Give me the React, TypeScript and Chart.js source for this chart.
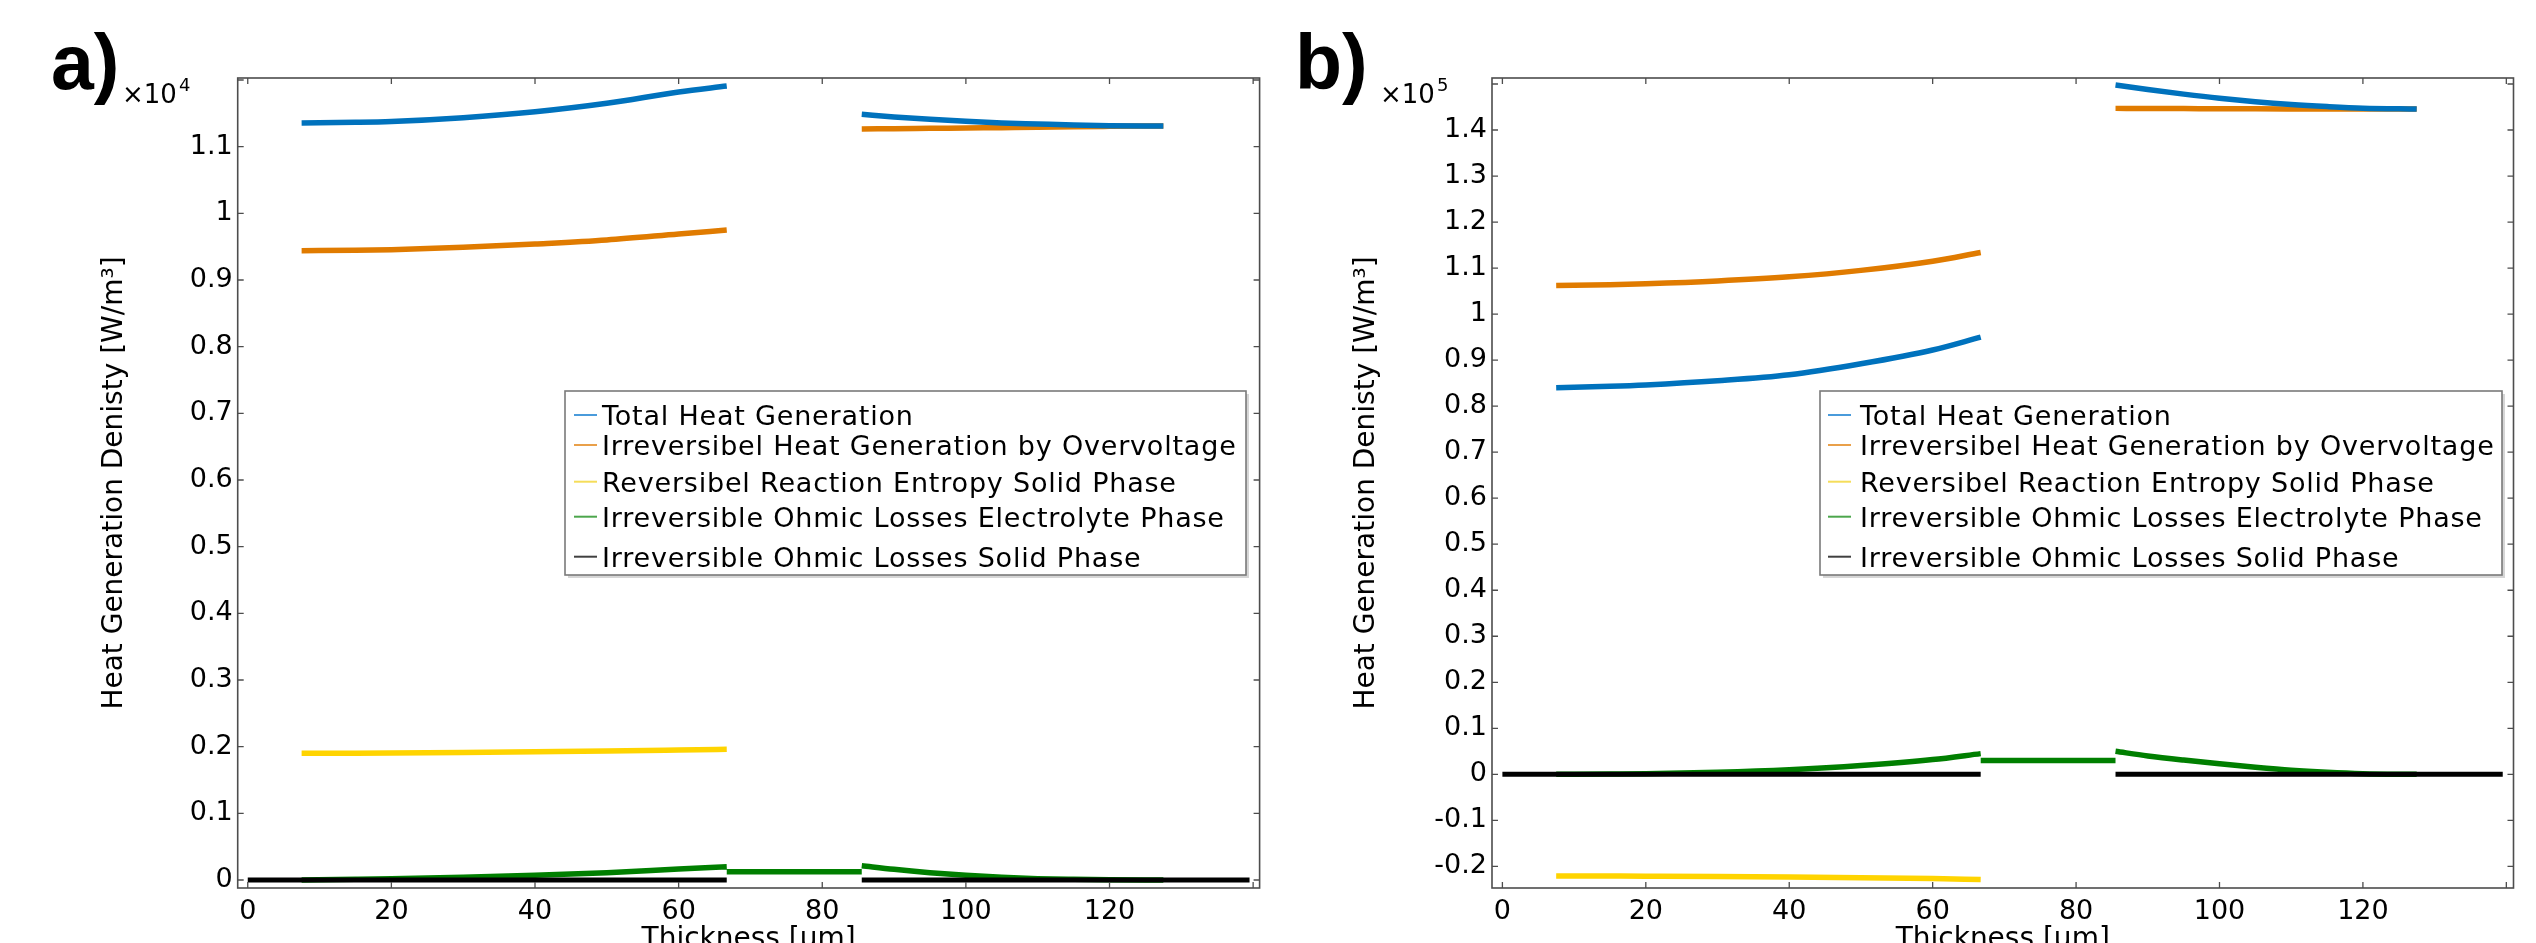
import React, { useEffect, useRef } from 'react';
import { Chart, registerables } from 'chart.js';

Chart.register(...registerables);

const FONT_FAMILY = '"DejaVu Sans", "Liberation Sans", sans-serif';

const seriesLabels = [
  'Total Heat Generation',
  'Irreversibel Heat Generation by Overvoltage',
  'Reversibel Reaction Entropy Solid Phase',
  'Irreversible Ohmic Losses Electrolyte Phase',
  'Irreversible Ohmic Losses Solid Phase',
];
const seriesColors = ['#0072BD', '#E07B00', '#FFD400', '#007F00', '#000000'];
const legendSampleColors = ['#4A9BDB', '#E9A04A', '#F5DD5A', '#4CA64C', '#404040'];

const xTickValues = [0, 20, 40, 60, 80, 100, 120, 140];
const xTickLabels = ['0', '20', '40', '60', '80', '100', '120', ''];

const yTickValuesA = [0, 0.1, 0.2, 0.3, 0.4, 0.5, 0.6, 0.7, 0.8, 0.9, 1.0, 1.1, 1.2];
const yTickLabelsA = ['0', '0.1', '0.2', '0.3', '0.4', '0.5', '0.6', '0.7', '0.8', '0.9', '1', '1.1', ''];
const yTickValuesB = [-0.2, -0.1, 0, 0.1, 0.2, 0.3, 0.4, 0.5, 0.6, 0.7, 0.8, 0.9, 1.0, 1.1, 1.2, 1.3, 1.4, 1.5];
const yTickLabelsB = ['-0.2', '-0.1', '0', '0.1', '0.2', '0.3', '0.4', '0.5', '0.6', '0.7', '0.8', '0.9', '1', '1.1', '1.2', '1.3', '1.4', ''];

// Thickness positions [µm]
const xNeg = [7.5, 15, 20, 30, 40, 50, 60, 66.7];
const xSep = [66.7, 85.5];
const xPos = [85.5, 90, 95, 100, 105, 110, 115, 120, 127.5];
const xSolidNeg = [0, 66.7];
const xSolidPos = [85.5, 139.5];

// Panel a) values (x10^4 W/m³)
const aTotalNeg = [1.1355, 1.1365, 1.1378, 1.1435, 1.1523, 1.165, 1.182, 1.191];
const aTotalPos = [1.1485, 1.1445, 1.141, 1.138, 1.1355, 1.134, 1.1325, 1.1315, 1.131];
const aOverNeg = [0.944, 0.9445, 0.9455, 0.949, 0.954, 0.96, 0.969, 0.975];
const aOverPos = [1.1265, 1.127, 1.1275, 1.128, 1.1285, 1.129, 1.13, 1.1305, 1.131];
const aEntropyNeg = [0.19, 0.1902, 0.1905, 0.1914, 0.1925, 0.1936, 0.195, 0.196];
const aElectrolyteNeg = [0, 0.001, 0.0018, 0.004, 0.007, 0.011, 0.0165, 0.02];
const aElectrolyteSep = [0.0125, 0.0125];
const aElectrolytePos = [0.0215, 0.016, 0.011, 0.007, 0.004, 0.002, 0.001, 0.0004, 0];
const aSolidNeg = [0, 0];
const aSolidPos = [0, 0];

// Panel b) values (x10^5 W/m³)
const bTotalNeg = [0.84, 0.843, 0.846, 0.855, 0.868, 0.892, 0.922, 0.95];
const bTotalPos = [1.4977, 1.488, 1.478, 1.469, 1.4615, 1.4555, 1.451, 1.4475, 1.4456];
const bOverNeg = [1.062, 1.064, 1.066, 1.072, 1.081, 1.095, 1.115, 1.134];
const bOverPos = [1.447, 1.4468, 1.4465, 1.4462, 1.446, 1.4459, 1.4458, 1.4457, 1.4456];
const bEntropyNeg = [-0.2207, -0.2211, -0.2214, -0.2221, -0.2231, -0.2245, -0.2266, -0.2287];
const bElectrolyteNeg = [0, 0.0008, 0.0015, 0.0045, 0.01, 0.019, 0.032, 0.045];
const bElectrolyteSep = [0.03, 0.03];
const bElectrolytePos = [0.05, 0.04, 0.031, 0.023, 0.0155, 0.009, 0.0045, 0.0015, 0];
const bSolidNeg = [0, 0];
const bSolidPos = [0, 0];

type Seg = [number[], number[]];

function joinSegments(...segs: Seg[]) {
  const pts: { x: number; y: number | null }[] = [];
  segs.forEach(([xs, ys], i) => {
    if (i > 0) pts.push({ x: xs[0], y: null });
    xs.forEach((x, j) => pts.push({ x, y: ys[j] }));
  });
  return pts;
}

function makeDatasets(series: Seg[][]) {
  return series.map((segs, i) => ({
    label: seriesLabels[i],
    data: joinSegments(...segs),
    borderColor: seriesColors[i],
    backgroundColor: seriesColors[i],
    borderWidth: i === 4 ? 5 : 5.5,
    pointRadius: 0,
    fill: false,
    spanGaps: false,
    cubicInterpolationMode: 'monotone',
    order: i === 4 ? -1 : i,
  }));
}

const CANVAS_W = 1268;
const CANVAS_H = 960;
const PLOT_TOP = 78;
const PLOT_BOTTOM = 888;
const LEGEND_TOP = 391;
const LEGEND_H = 184;
const legendBaselines = [425, 455, 491.7, 526.7, 566.7];

type PanelSpec = {
  panel: string;
  exponent: string;
  panelX: number;
  expX: number;
  legendX: number;
  legendW: number;
  sampleX: number;
  textX: number;
  yAxisWidth: number;
  padRight: number;
  yTitlePad: number;
  xMin: number;
  xMax: number;
  yMin: number;
  yMax: number;
  yTickValues: number[];
  yTickLabels: string[];
  series: Seg[][];
};

function makeDecorPlugin(d: PanelSpec) {
  return {
    id: 'decor',
    afterDraw(chart: any) {
      const { ctx, chartArea: ca, scales } = chart;
      ctx.save();
      // frame
      ctx.strokeStyle = '#4d4d4d';
      ctx.lineWidth = 1.6;
      ctx.strokeRect(ca.left, ca.top, ca.right - ca.left, ca.bottom - ca.top);
      // inward ticks on all sides
      const tl = 6;
      ctx.beginPath();
      scales.x.ticks.forEach((t: any) => {
        const px = scales.x.getPixelForValue(t.value);
        ctx.moveTo(px, ca.bottom);
        ctx.lineTo(px, ca.bottom - tl);
        ctx.moveTo(px, ca.top);
        ctx.lineTo(px, ca.top + tl);
      });
      scales.y.ticks.forEach((t: any) => {
        const py = scales.y.getPixelForValue(t.value);
        ctx.moveTo(ca.left, py);
        ctx.lineTo(ca.left + tl, py);
        ctx.moveTo(ca.right, py);
        ctx.lineTo(ca.right - tl, py);
      });
      ctx.lineWidth = 1.3;
      ctx.stroke();

      // legend box
      ctx.fillStyle = 'rgba(0,0,0,0.16)';
      ctx.fillRect(d.legendX + 3, LEGEND_TOP + 3, d.legendW, LEGEND_H);
      ctx.fillStyle = '#ffffff';
      ctx.fillRect(d.legendX, LEGEND_TOP, d.legendW, LEGEND_H);
      ctx.strokeStyle = '#7a7a7a';
      ctx.lineWidth = 1.6;
      ctx.strokeRect(d.legendX, LEGEND_TOP, d.legendW, LEGEND_H);
      chart.data.datasets.forEach((ds: any, i: number) => {
        const y = legendBaselines[i];
        ctx.strokeStyle = legendSampleColors[i];
        ctx.lineWidth = 2;
        ctx.beginPath();
        ctx.moveTo(d.sampleX, y - 10);
        ctx.lineTo(d.sampleX + 23, y - 10);
        ctx.stroke();
        ctx.fillStyle = '#000';
        ctx.font = `27px ${FONT_FAMILY}`;
        (ctx as any).letterSpacing = '0.8px';
        ctx.textBaseline = 'alphabetic';
        ctx.textAlign = 'left';
        ctx.fillText(ds.label, d.textX, y);
      });
      (ctx as any).letterSpacing = '0px';

      // panel label and exponent
      ctx.fillStyle = '#000';
      ctx.textBaseline = 'alphabetic';
      ctx.textAlign = 'left';
      ctx.font = `bold 77px "Liberation Sans", Arial, sans-serif`;
      ctx.fillText(d.panel, d.panelX, 89);
      ctx.font = `26px ${FONT_FAMILY}`;
      ctx.fillText('×10', d.expX, 103);
      ctx.font = `18px ${FONT_FAMILY}`;
      ctx.fillText(d.exponent, d.expX + 57, 91);
      ctx.restore();
    },
  };
}

function makeConfig(p: PanelSpec): any {
  return {
    type: 'line',
    data: { datasets: makeDatasets(p.series) },
    options: {
      animation: false,
      responsive: false,
      devicePixelRatio: 1,
      events: [],
      layout: { padding: { top: PLOT_TOP, right: p.padRight, left: 0, bottom: 0 } },
      plugins: {
        legend: { display: false },
        tooltip: { enabled: false },
        title: { display: false },
      },
      scales: {
        x: {
          type: 'linear',
          min: p.xMin,
          max: p.xMax,
          grid: { display: false, drawTicks: false },
          border: { display: false },
          afterBuildTicks: (s: any) => {
            s.ticks = xTickValues.map((v) => ({ value: v }));
          },
          afterFit: (s: any) => {
            s.height = CANVAS_H - PLOT_BOTTOM;
          },
          ticks: {
            autoSkip: false,
            maxRotation: 0,
            padding: 8,
            color: '#000',
            font: { family: FONT_FAMILY, size: 27 },
            callback: (_v: any, i: number) => xTickLabels[i],
          },
          title: {
            display: true,
            text: 'Thickness [μm]',
            color: '#000',
            font: { family: FONT_FAMILY, size: 28 },
            padding: { top: 0, bottom: 3 },
          },
        },
        y: {
          type: 'linear',
          min: p.yMin,
          max: p.yMax,
          grid: { display: false, drawTicks: false },
          border: { display: false },
          afterBuildTicks: (s: any) => {
            s.ticks = p.yTickValues.map((v) => ({ value: v }));
          },
          afterFit: (s: any) => {
            s.width = p.yAxisWidth;
          },
          ticks: {
            autoSkip: false,
            padding: 5,
            color: '#000',
            font: { family: FONT_FAMILY, size: 27 },
            callback: (_v: any, i: number) => p.yTickLabels[i],
          },
          title: {
            display: true,
            text: 'Heat Generation Denisty [W/m³]',
            color: '#000',
            font: { family: FONT_FAMILY, size: 28 },
            padding: { top: p.yTitlePad, bottom: 0 },
          },
        },
      },
    },
    plugins: [makeDecorPlugin(p)],
  };
}

const panelA: PanelSpec = {
  panel: 'a)',
  exponent: '4',
  panelX: 51,
  expX: 122,
  legendX: 565,
  legendW: 681,
  sampleX: 574,
  textX: 602,
  yAxisWidth: 237.7,
  padRight: CANVAS_W - 1259.6,
  yTitlePad: 98.3,
  xMin: -1.4,
  xMax: 140.9,
  yMin: -0.012,
  yMax: 1.203,
  yTickValues: yTickValuesA,
  yTickLabels: yTickLabelsA,
  series: [
    [[xNeg, aTotalNeg], [xPos, aTotalPos]],
    [[xNeg, aOverNeg], [xPos, aOverPos]],
    [[xNeg, aEntropyNeg]],
    [[xNeg, aElectrolyteNeg], [xSep, aElectrolyteSep], [xPos, aElectrolytePos]],
    [[xSolidNeg, aSolidNeg], [xSolidPos, aSolidPos]],
  ],
};

const panelB: PanelSpec = {
  panel: 'b)',
  exponent: '5',
  panelX: 27,
  expX: 112,
  legendX: 552,
  legendW: 682,
  sampleX: 560,
  textX: 592,
  yAxisWidth: 224,
  padRight: CANVAS_W - 1245.5,
  yTitlePad: 81.6,
  xMin: -1.45,
  xMax: 141,
  yMin: -0.247,
  yMax: 1.513,
  yTickValues: yTickValuesB,
  yTickLabels: yTickLabelsB,
  series: [
    [[xNeg, bTotalNeg], [xPos, bTotalPos]],
    [[xNeg, bOverNeg], [xPos, bOverPos]],
    [[xNeg, bEntropyNeg]],
    [[xNeg, bElectrolyteNeg], [xSep, bElectrolyteSep], [xPos, bElectrolytePos]],
    [[xSolidNeg, bSolidNeg], [xSolidPos, bSolidPos]],
  ],
};

function Panel({ left, spec }: { left: number; spec: PanelSpec }) {
  const ref = useRef<HTMLCanvasElement | null>(null);
  useEffect(() => {
    if (!ref.current) return;
    const chart = new Chart(ref.current, makeConfig(spec));
    return () => chart.destroy();
  }, [spec]);
  return (
    <canvas
      ref={ref}
      width={CANVAS_W}
      height={CANVAS_H}
      style={{ position: 'absolute', left, top: 0, width: CANVAS_W, height: CANVAS_H }}
    />
  );
}

export default function App() {
  return (
    <div
      style={{
        position: 'fixed',
        left: 0,
        top: 0,
        width: 2536,
        height: 943,
        overflow: 'hidden',
        background: '#ffffff',
      }}
    >
      <Panel left={0} spec={panelA} />
      <Panel left={CANVAS_W} spec={panelB} />
    </div>
  );
}
